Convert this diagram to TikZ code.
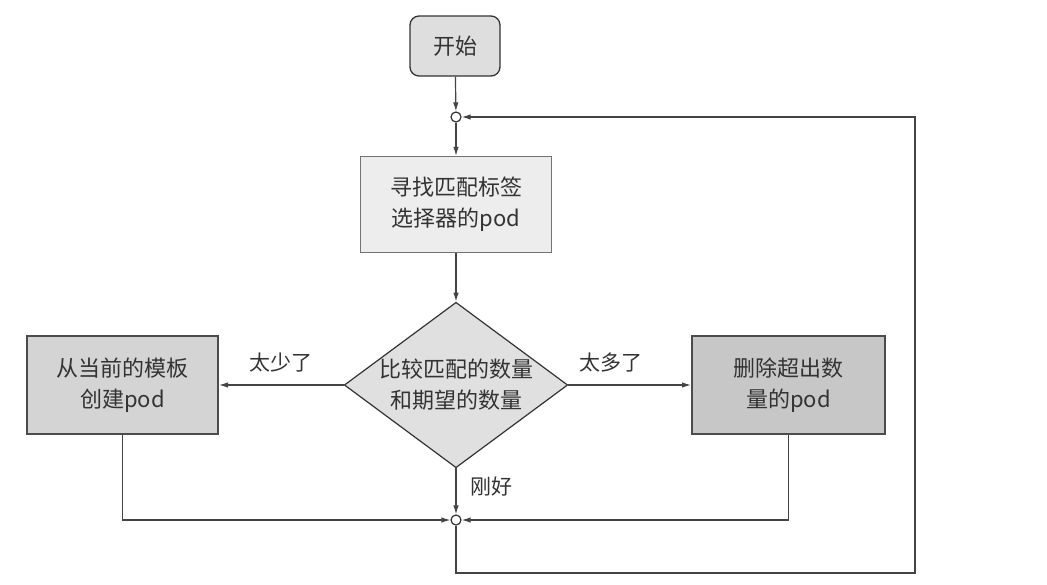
\documentclass[tikz,border=0pt]{standalone}
\usepackage{fontspec}
\setmainfont{Noto Sans CJK SC}
\usetikzlibrary{shapes.geometric,arrows.meta}
\definecolor{ink}{HTML}{333333}
\definecolor{lineg}{HTML}{444444}
\tikzset{
  base/.style={draw=ink, text=ink, font=\fontsize{22}{31}\selectfont, align=center, inner sep=0pt},
  startbox/.style={base, rounded corners=9pt, fill=black!13, line width=1.3pt, minimum width=90pt, minimum height=60pt},
  findbox/.style={base, fill=black!7, draw=black!55, line width=1.3pt, minimum width=191pt, minimum height=96pt},
  actbox/.style={base, line width=2pt, draw=black!70, minimum height=98pt},
  decide/.style={base, shape=diamond, shape aspect=1.35, fill=black!12, line width=1.2pt, minimum width=222pt, minimum height=164pt},
  junc/.style={circle, draw=ink, fill=white, line width=1.2pt, minimum size=10pt, inner sep=0pt},
  conn/.style={draw=lineg, line width=1.2pt},
  arr/.style={conn, -{Latex[length=9pt,width=5.5pt]}},
  lbl/.style={text=ink, font=\fontsize{21}{25}\selectfont, inner sep=0pt}
}
\begin{document}
\begin{tikzpicture}[x=1pt,y=-1pt]
\useasboundingbox[fill=white] (0,0) rectangle (1047,584);
\node[startbox] (start) at (455,46) {开始};
\node[junc] (topj) at (456,117) {};
\node[findbox] (find) at (456,204.5) {寻找匹配标签\\选择器的pod};
\node[decide] (cmp) at (456,385) {比较匹配的数量\\和期望的数量};
\node[actbox, fill=black!17, minimum width=191pt] (create) at (122.5,385) {从当前的模板\\创建pod};
\node[actbox, fill=black!22, minimum width=193pt] (delete) at (788.5,385) {删除超出数\\量的pod};
\node[junc] (botj) at (456,520) {};
\coordinate (c1) at (456,573);
\coordinate (c2) at (915,573);
\coordinate (c3) at (915,117);

\draw[arr] (start) -- (topj);
\draw[arr] (topj) -- (find);
\draw[arr] (find) -- (cmp);
\draw[arr] (cmp.west) -- (create.east) node[lbl, midway, above=12pt] {太少了};
\draw[arr] (cmp.east) -- (delete.west) node[lbl, pos=0.35, above=12pt] {太多了};
\draw[arr] (cmp.south) -- (botj) node[lbl, pos=0.4, right=14pt] {刚好};
\draw[arr] (create.south) |- (botj);
\draw[arr] (delete.south) |- (botj);
\draw[arr] (botj) -- (c1) -- (c2) -- (c3) -- (topj);
\end{tikzpicture}
\end{document}
